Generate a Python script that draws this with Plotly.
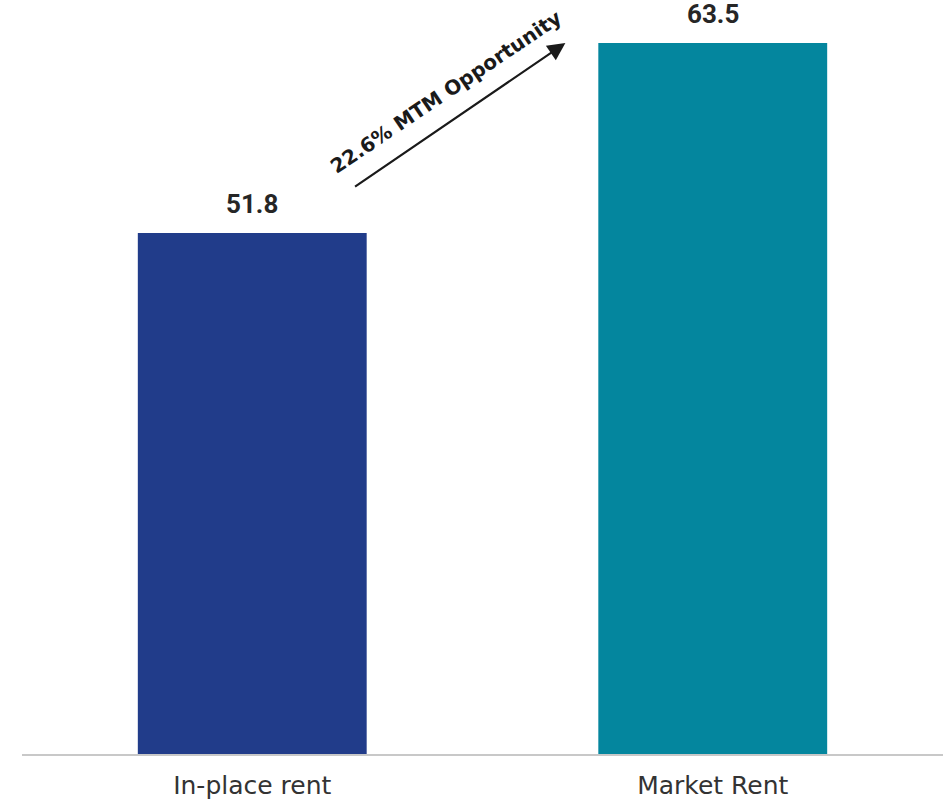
import plotly.graph_objects as go

# Rent comparison data
categories = ["In-place rent", "Market Rent"]
rent_values = [51.8, 63.5]
bar_colors = ["#213C8A", "#04869E"]
opportunity_label = "22.6% MTM Opportunity"

fig = go.Figure()
fig.add_trace(go.Bar(
    x=categories,
    y=rent_values,
    marker=dict(color=bar_colors, line=dict(width=0)),
    hoverinfo="skip",
))

# value labels above each bar
for cat, val in zip(categories, rent_values):
    fig.add_annotation(
        x=cat, y=val, text=f"<b>{val:.1f}</b>",
        showarrow=False, yanchor="bottom", yshift=12,
        font=dict(family="Roboto", size=26, color="#262626"),
    )

# arrow from the in-place level up to the market level
fig.add_annotation(
    x=0.68, y=rent_values[1], ax=0.22, ay=54.6,
    xref="x", yref="y", axref="x", ayref="y",
    text="", showarrow=True, arrowhead=2, arrowsize=1.6,
    arrowwidth=2.2, arrowcolor="#1a1a1a",
)
fig.add_annotation(
    x=0.42, y=60.5, xref="x", yref="y",
    text=f"<b>{opportunity_label}</b>", showarrow=False,
    textangle=-34,
    font=dict(family="DejaVu Sans", size=20, color="#1a1a1a"),
)

fig.update_layout(
    width=948, height=805,
    margin=dict(l=22, r=5, t=10, b=51),
    plot_bgcolor="white", paper_bgcolor="white",
    bargap=0.503,
    showlegend=False,
    xaxis=dict(
        showline=True, linecolor="#C8C8C8", linewidth=2,
        ticks="", showgrid=False, automargin=False,
        tickfont=dict(family="DejaVu Sans", size=25, color="#333333"),
        ticklabelstandoff=8,
    ),
    yaxis=dict(
        range=[19.7, 65.54], visible=False, showgrid=False,
    ),
)

fig.write_html("out.html")
